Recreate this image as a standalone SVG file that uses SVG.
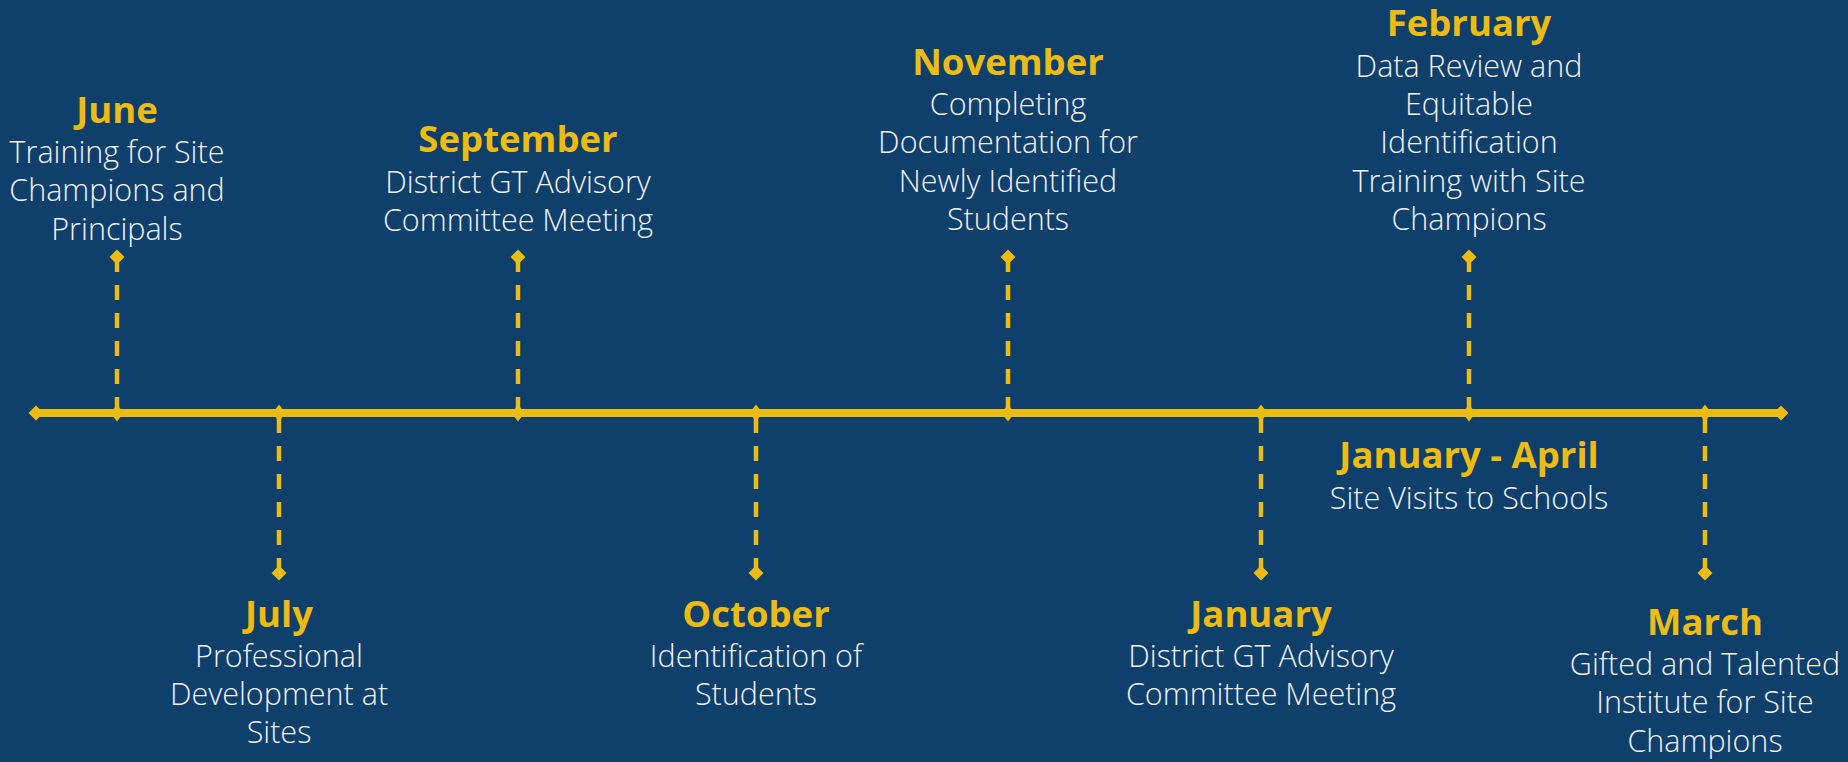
<svg xmlns="http://www.w3.org/2000/svg" width="1848" height="762" viewBox="0 0 1848 762">
<style>
.bg{fill:#0F406B}
.axis{stroke:#ECBC14;stroke-width:8;fill:none}
.dash{stroke:#ECBC14;stroke-width:4.5;stroke-dasharray:15 13;fill:none}
.dia{fill:#ECBC14}
.t{font-family:"Open Sans",Lato,"Liberation Sans",sans-serif;font-weight:700;font-size:36.5px;fill:#ECBC14;text-anchor:middle}
.b{font-family:"Open Sans",Lato,"Liberation Sans",sans-serif;font-weight:300;font-size:30.5px;fill:#EEF2F6;text-anchor:middle}
</style>
<defs>
<polygon id="d" points="0,-7.5 7.5,0 0,7.5 -7.5,0"/>
<polygon id="dx" points="0,-8.5 6.5,0 0,8.5 -6.5,0"/>
</defs>
<rect class="bg" x="0" y="0" width="1848" height="762"/>
<g id="connectors">
<line class="axis" x1="35" y1="413" x2="1782" y2="413"/>
<use href="#d" class="dia" x="36" y="413"/>
<use href="#d" class="dia" x="1781" y="413"/>
<line class="dash" x1="117" y1="412" x2="117" y2="257"/>
<line class="dash" x1="518" y1="412" x2="518" y2="257"/>
<line class="dash" x1="1008" y1="412" x2="1008" y2="257"/>
<line class="dash" x1="1469" y1="412" x2="1469" y2="257"/>
<line class="dash" x1="279" y1="418" x2="279" y2="573"/>
<line class="dash" x1="756" y1="418" x2="756" y2="573"/>
<line class="dash" x1="1261" y1="418" x2="1261" y2="573"/>
<line class="dash" x1="1705" y1="418" x2="1705" y2="573"/>
<use href="#d" class="dia" x="117" y="257"/>
<use href="#d" class="dia" x="518" y="257"/>
<use href="#d" class="dia" x="1008" y="257"/>
<use href="#d" class="dia" x="1469" y="257"/>
<use href="#d" class="dia" x="279" y="573"/>
<use href="#d" class="dia" x="756" y="573"/>
<use href="#d" class="dia" x="1261" y="573"/>
<use href="#d" class="dia" x="1705" y="573"/>
<use href="#dx" class="dia" x="117" y="413"/>
<use href="#dx" class="dia" x="518" y="413"/>
<use href="#dx" class="dia" x="1008" y="413"/>
<use href="#dx" class="dia" x="1469" y="413"/>
<use href="#dx" class="dia" x="279" y="413"/>
<use href="#dx" class="dia" x="756" y="413"/>
<use href="#dx" class="dia" x="1261" y="413"/>
<use href="#dx" class="dia" x="1705" y="413"/>
</g>
<g id="june">
<text class="t" x="117" y="123">June</text>
<text class="b"><tspan x="117" y="163">Training for Site</tspan><tspan x="117" y="201">Champions and</tspan><tspan x="117" y="240">Principals</tspan></text>
</g>
<g id="september">
<text class="t" x="518" y="152">September</text>
<text class="b"><tspan x="518" y="193">District GT Advisory</tspan><tspan x="518" y="231">Committee Meeting</tspan></text>
</g>
<g id="november">
<text class="t" x="1008" y="75">November</text>
<text class="b"><tspan x="1008" y="115">Completing</tspan><tspan x="1008" y="153">Documentation for</tspan><tspan x="1008" y="192">Newly Identified</tspan><tspan x="1008" y="230">Students</tspan></text>
</g>
<g id="february">
<text class="t" x="1469" y="36">February</text>
<text class="b"><tspan x="1469" y="77">Data Review and</tspan><tspan x="1469" y="115">Equitable</tspan><tspan x="1469" y="153">Identification</tspan><tspan x="1469" y="192">Training with Site</tspan><tspan x="1469" y="230">Champions</tspan></text>
</g>
<g id="july">
<text class="t" x="279" y="627">July</text>
<text class="b"><tspan x="279" y="667">Professional</tspan><tspan x="279" y="705">Development at</tspan><tspan x="279" y="743">Sites</tspan></text>
</g>
<g id="october">
<text class="t" x="756" y="627">October</text>
<text class="b"><tspan x="756" y="667">Identification of</tspan><tspan x="756" y="705">Students</tspan></text>
</g>
<g id="january">
<text class="t" x="1261" y="627">January</text>
<text class="b"><tspan x="1261" y="667">District GT Advisory</tspan><tspan x="1261" y="705">Committee Meeting</tspan></text>
</g>
<g id="january-april">
<text class="t" x="1469" y="468">January - April</text>
<text class="b"><tspan x="1469" y="509">Site Visits to Schools</tspan></text>
</g>
<g id="march">
<text class="t" x="1705" y="635">March</text>
<text class="b"><tspan x="1705" y="675">Gifted and Talented</tspan><tspan x="1705" y="713">Institute for Site</tspan><tspan x="1705" y="752">Champions</tspan></text>
</g>
</svg>
